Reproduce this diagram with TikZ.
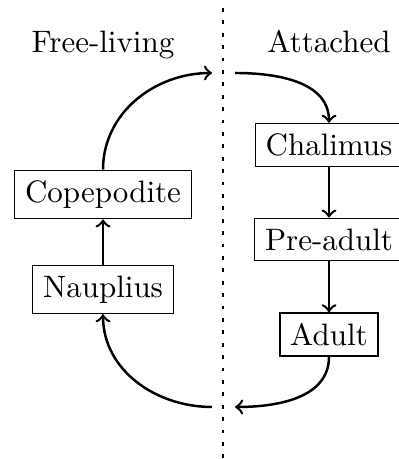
\documentclass[tikz,border=0pt]{standalone}
\begin{document}
\begin{tikzpicture}[x=0.32258pt,y=0.32258pt,
  stage/.style={draw,line width=0.4pt,inner sep=3.333pt},
  flow/.style={thick,->},
  divider/.style={line width=0.7pt,dash pattern=on 1.2pt off 2.8pt}]
\useasboundingbox (0,0) rectangle (398,459);
\coordinate (dtop) at (223,451);
\coordinate (dbot) at (223,-11);
\draw[divider] (dtop) -- (dbot);
\node[anchor=base] (fl) at (103,406) {Free-living};
\node[anchor=base] (att) at (329,406) {Attached};
\node[stage] (cop) at (103,264.5) {Copepodite};
\node[stage] (nau) at (103,169.5) {Nauplius};
\node[stage] (cha) at (329,314) {Chalimus};
\node[stage] (pre) at (329,219.5) {Pre-adult};
\node[stage] (adu) at (329,124.5) {Adult};
\coordinate (tl) at (212,386);
\coordinate (tr) at (235,386);
\coordinate (br) at (235,52);
\coordinate (bl) at (212,52);
\draw[flow] (cop.north) to[out=90,in=180] (tl);
\draw[flow] (tr) to[out=0,in=90] (cha.north);
\draw[flow] (cha) -- (pre);
\draw[flow] (pre) -- (adu);
\draw[flow] (adu.south) to[out=-90,in=0] (br);
\draw[flow] (bl) to[out=180,in=-90] (nau.south);
\draw[flow] (nau) -- (cop);
\end{tikzpicture}
\end{document}
